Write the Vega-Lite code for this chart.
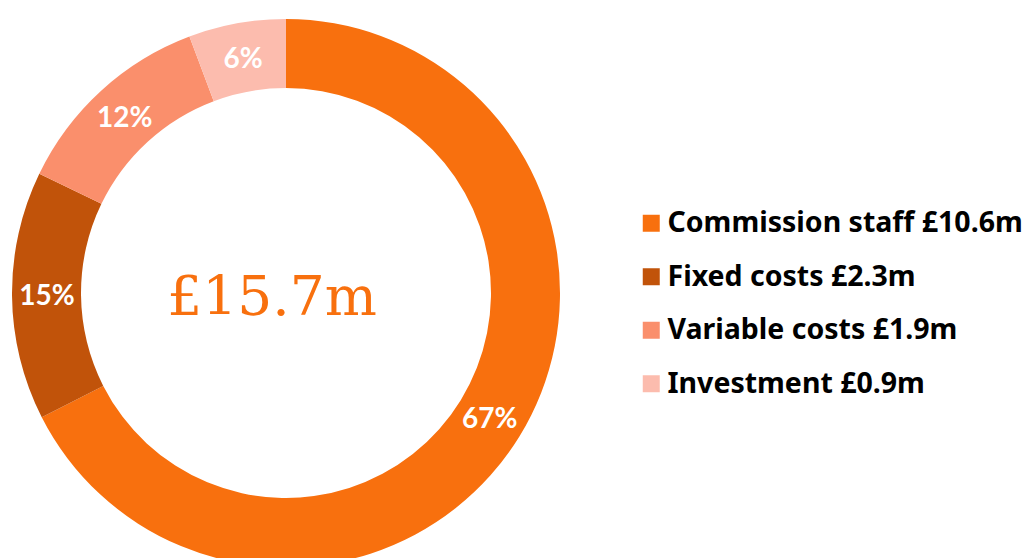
{
  "$schema": "https://vega.github.io/schema/vega-lite/v6.json",
  "width": 572,
  "height": 586,
  "autosize": {"type": "none"},
  "padding": {"left": 0, "top": 0, "right": 455, "bottom": -28},
  "background": "white",
  "view": {"stroke": null},
  "data": {
    "values": [
      {"category": "Commission staff £10.6m", "value": 10.6, "pct": "67%", "order": 1},
      {"category": "Fixed costs £2.3m", "value": 2.3, "pct": "15%", "order": 2},
      {"category": "Variable costs £1.9m", "value": 1.9, "pct": "12%", "order": 3},
      {"category": "Investment £0.9m", "value": 0.9, "pct": "6%", "order": 4}
    ]
  },
  "encoding": {
    "theta": {"field": "value", "type": "quantitative", "stack": true},
    "order": {"field": "order", "type": "quantitative"}
  },
  "layer": [
    {
      "mark": {"type": "arc", "outerRadius": 274, "innerRadius": 205},
      "encoding": {
        "color": {
          "field": "category",
          "type": "nominal",
          "sort": ["Commission staff £10.6m", "Fixed costs £2.3m", "Variable costs £1.9m", "Investment £0.9m"],
          "scale": {
            "domain": ["Commission staff £10.6m", "Fixed costs £2.3m", "Variable costs £1.9m", "Investment £0.9m"],
            "range": ["#F8700E", "#C1530A", "#FA8F6C", "#FCBCAE"]
          },
          "legend": {
            "title": null,
            "orient": "none",
            "legendX": 637,
            "legendY": 209,
            "symbolType": "square",
            "symbolSize": 289,
            "symbolStrokeWidth": 0,
            "labelFont": "Noto Sans",
            "labelFontWeight": "bold",
            "labelFontSize": 28.5,
            "labelColor": "#000000",
            "labelOffset": 2,
            "rowPadding": 24.5,
            "labelLimit": 420
          }
        }
      }
    },
    {
      "mark": {"type": "text", "radius": 239, "font": "Lato", "fontWeight": "bold", "fontSize": 28, "color": "white", "baseline": "middle", "align": "center", "dy": 2},
      "encoding": {"text": {"field": "pct", "type": "nominal"}}
    },
    {
      "data": {"values": [{"label": "£15.7m"}]},
      "mark": {"type": "text", "font": "DejaVu Serif", "fontSize": 55, "color": "#F8700E", "baseline": "middle", "align": "center", "dy": 5, "dx": -14},
      "encoding": {"text": {"field": "label", "type": "nominal"}, "theta": null, "order": null}
    }
  ]
}
